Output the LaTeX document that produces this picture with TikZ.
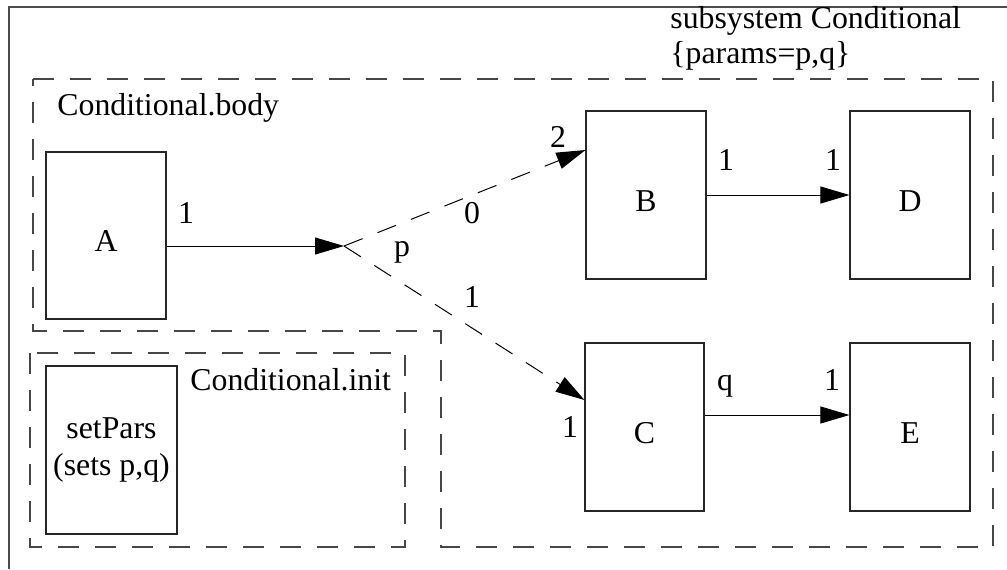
\documentclass[tikz,border=0pt]{standalone}
\usepackage{fontspec}
\setmainfont{Liberation Serif}
\usetikzlibrary{arrows.meta}
\tikzset{
  frameline/.style={draw=black!72, line width=0.7pt, dash pattern=on 10.5pt off 8pt},
  outerline/.style={draw=black!70, line width=0.9pt},
  blockbox/.style={draw=black!85, line width=0.55pt, inner sep=0pt, minimum width=60pt, minimum height=84pt, text height=16pt, text depth=0pt},
  initbox/.style={draw=black!85, line width=0.55pt, inner sep=0pt, minimum width=65.5pt, minimum height=84pt, align=center},
  conn/.style={draw=black, line width=0.5pt, -{Triangle[length=14.5pt,width=8.5pt]}},
  dconn/.style={conn, dash pattern=on 10pt off 8pt},
  lbl/.style={inner sep=0pt},
  txt/.style={inner sep=0pt, anchor=base west}
}
\begin{document}
\begin{tikzpicture}[x=0.5pt, y=-0.5pt, font=\fontsize{15.9}{18.5}\selectfont]
\useasboundingbox (0,0) rectangle (1007,569);
% outer frame (only top and left edges visible)
\draw[outerline] (9,569) -- (9,7) -- (1007,7);
% subsystem label
\node[txt] (ttl1) at (670,28) {subsystem Conditional};
\node[txt] (ttl2) at (670,63) {\{params=p,q\}};
% body frame
\draw[frameline] (33,79) -- (993,79) -- (993,547) -- (441,547) -- (441,331) -- (33,331) -- cycle;
\node[txt] (bodylbl) at (57,115) {Conditional.body};
% init frame
\draw[frameline] (30,353) rectangle (405,547);
\node[txt] (initlbl) at (190,390) {Conditional.init};
% blocks
\node[blockbox, minimum height=83.5pt] (A) at (106,235.5) {A};
\node[initbox] (S) at (111.5,450) {setPars\\(sets p,q)};
\node[blockbox] (B) at (646,195) {B};
\node[blockbox] (D) at (910,195) {D};
\node[blockbox, minimum width=59.5pt] (C) at (644.5,427) {C};
\node[blockbox] (E) at (910,427) {E};
\coordinate (J) at (344,246);
% connectors
\draw[conn] ([yshift=-5.25pt]A.east) -- (J);
\draw[dconn] (J) -- ([yshift=22.5pt]B.west);
\draw[dconn] (J) -- ([yshift=13.5pt]C.west);
\draw[conn] (B.east) -- (D.west);
\draw[conn] ([yshift=6pt]C.east) -- ([yshift=6pt]E.west);
% port labels
\node[lbl] (lA) at (186,213) {1};
\node[lbl] (l0) at (472,213) {0};
\node[lbl] (lp) at (402,252) {p};
\node[lbl] (l1) at (472,297) {1};
\node[lbl] (lB2) at (558,137) {2};
\node[lbl] (lB1) at (726,160) {1};
\node[lbl] (lD1) at (833,160) {1};
\node[lbl] (lC1) at (570,427) {1};
\node[lbl] (lq) at (725,386) {q};
\node[lbl] (lE1) at (832,380) {1};
\end{tikzpicture}
\end{document}
